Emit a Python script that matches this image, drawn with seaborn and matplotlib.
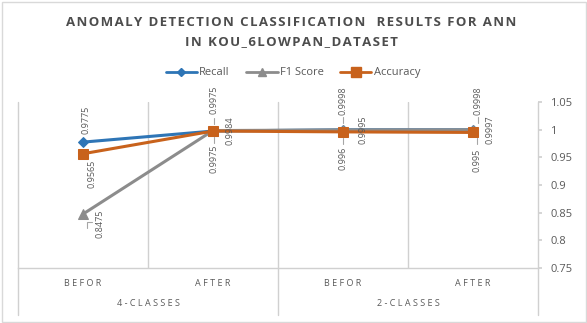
import numpy as np
import pandas as pd
import matplotlib
matplotlib.use("Agg")
import matplotlib.pyplot as plt
import matplotlib.transforms as mtrans
import seaborn as sns
from matplotlib.lines import Line2D
from matplotlib.patches import Rectangle

# ---- data ----
categories = ["BEFOR", "AFTER", "BEFOR", "AFTER"]
groups = ["4-CLASSES", "2-CLASSES"]
recall = [0.9775, 0.9975, 0.9998, 0.9998]
f1_score = [0.8475, 0.9984, 0.9995, 0.9997]
accuracy = [0.9565, 0.9975, 0.996, 0.995]
label_recall = ["0.9775", "0.9975", "0.9998", "0.9998"]
label_f1 = ["0.8475", "0.9984", "0.9995", "0.9997"]
label_acc = ["0.9565", "0.9975", "0.996", "0.995"]
y_ticks = [0.75, 0.8, 0.85, 0.9, 0.95, 1.0, 1.05]
y_tick_labels = ["0.75", "0.8", "0.85", "0.9", "0.95", "1", "1.05"]
series_names = ["Recall", "F1 Score", "Accuracy"]
title_lines = ["ANOMALY DETECTION CLASSIFICATION  RESULTS FOR ANN",
               "IN KOU_6LOWPAN_DATASET"]

pos = list(range(len(categories)))
df = pd.DataFrame({
    "pos": pos * 3,
    "value": recall + f1_score + accuracy,
    "metric": ["Recall"] * 4 + ["F1 Score"] * 4 + ["Accuracy"] * 4,
})

# ---- style ----
colors = {"Recall": "#2E75B6", "F1 Score": "#8C8C8C", "Accuracy": "#C8621C"}
markers = {"Recall": "D", "F1 Score": "^", "Accuracy": "s"}
msizes = {"Recall": 5, "F1 Score": 7, "Accuracy": 7.5}
txt_col = "#595959"
grid_col = "#D0D0D0"
lead_col = "#A6A6A6"

sns.set_theme(style="white")
plt.rcParams["font.family"] = ["Open Sans", "DejaVu Sans"]

W, H = 587, 323
fig = plt.figure(figsize=(W / 100, H / 100), dpi=100)
left, right, top, bottom = 18, 538, 102, 268
ax = fig.add_axes([left / W, 1 - bottom / H, (right - left) / W, (bottom - top) / H])

for name in series_names:
    sub = df[df["metric"] == name]
    sns.lineplot(data=sub, x="pos", y="value", ax=ax, color=colors[name],
                 marker=markers[name], markersize=msizes[name],
                 markeredgecolor=colors[name], linewidth=2.2, label=name,
                 legend=False, zorder=3)

ax.set_xlim(-0.5, 3.5)
ax.set_ylim(0.75, 1.05)
ax.set_xlabel("")
ax.set_ylabel("")

# vertical gridlines at category boundaries
for xb in [0.5, 2.5]:
    ax.axvline(xb, color=grid_col, lw=1.0, zorder=1)
trans = mtrans.blended_transform_factory(ax.transData, ax.transAxes)
ext = -(315 - bottom) / (bottom - top)
for xb in [-0.5, 1.5, 3.5]:
    ax.add_line(Line2D([xb, xb], [ext, 1.0], transform=trans, color=grid_col,
                       lw=1.0, clip_on=False, zorder=1))

for s in ["top", "left", "right"]:
    ax.spines[s].set_visible(False)
ax.spines["bottom"].set_color(grid_col)
ax.spines["bottom"].set_linewidth(1.0)

ax.yaxis.tick_right()
ax.set_yticks(y_ticks)
ax.set_yticklabels(y_tick_labels)
ax.tick_params(axis="y", which="both", right=True, length=3, color=grid_col,
               labelsize=8, labelcolor=txt_col, pad=6)
ax.set_xticks(pos)
ax.set_xticklabels([" ".join(list(c)) for c in categories])
ax.tick_params(axis="x", length=0, labelsize=6.5, labelcolor=txt_col, pad=8)

for i, g in enumerate(groups):
    ax.text(0.5 + 2 * i, -(303 - bottom) / (bottom - top), " ".join(list(g)),
            transform=trans, ha="center", va="center", fontsize=6.5, color=txt_col)

# data labels (offsets in pixels)
off_recall = [(3, 8), (1, 17), (0, 15), (5, 15)]
off_acc = [(9, -6), (1, -14), (0, -15), (4, -16)]
off_f1 = [(17, 4), (17, 0), (20, 0), (17, 0)]
for i in pos:
    ax.annotate(label_recall[i], (pos[i], recall[i]), xytext=off_recall[i],
                textcoords="offset pixels", rotation=90, ha="center", va="bottom",
                fontsize=6.5, color=txt_col)
    ax.annotate(label_acc[i], (pos[i], accuracy[i]), xytext=off_acc[i],
                textcoords="offset pixels", rotation=90, ha="center", va="top",
                fontsize=6.5, color=txt_col)
    ax.annotate(label_f1[i], (pos[i], f1_score[i]), xytext=off_f1[i],
                textcoords="offset pixels", rotation=90, ha="center",
                va="top" if i == 0 else "center", fontsize=6.5, color=txt_col)

# leader lines (pixel offsets from the data points)
def leader(xv, yv, xs, ys):
    tr = mtrans.offset_copy(ax.transData, fig=fig, x=0, y=0, units="dots")
    base = ax.transData.transform((xv, yv))
    ax.add_line(Line2D([base[0] + a for a in xs], [base[1] + b for b in ys],
                       transform=None, color=lead_col, lw=0.8, zorder=2,
                       clip_on=False))

for i in [1, 2, 3]:
    leader(pos[i], recall[i], [off_recall[i][0]] * 2, [7, 13])
    leader(pos[i], accuracy[i], [off_acc[i][0]] * 2, [-6, -12])
leader(pos[0], f1_score[0], [9, 4, 4], [-8, -8, -14])

# legend
handles = [Line2D([0], [0], color=colors[n], marker=markers[n], lw=2,
                  markersize=msizes[n] - 1) for n in series_names]
fig.legend(handles, series_names, loc="center", ncol=3, frameon=False,
           bbox_to_anchor=(293 / W, 1 - 73 / H), fontsize=8, labelcolor=txt_col,
           handlelength=2.8, handletextpad=0.2, columnspacing=1.5)

# title (letter-spaced with hair spaces)
hs = "\u200a"
for line, yy in zip(title_lines, [23, 42]):
    spaced = hs.join(list(line))
    fig.text(291 / W, 1 - yy / H, spaced, ha="center", va="center",
             fontsize=9.5, fontweight="bold", color="#4D4D4D",
             family=["Open Sans", "DejaVu Sans"])

# chart border
fig.patches.append(Rectangle((1.5 / W, 1.5 / H), (W - 3) / W, (H - 3) / H,
                             transform=fig.transFigure, fill=False,
                             edgecolor="#D9D9D9", lw=1.0))

fig.savefig("out.png", dpi=100)
